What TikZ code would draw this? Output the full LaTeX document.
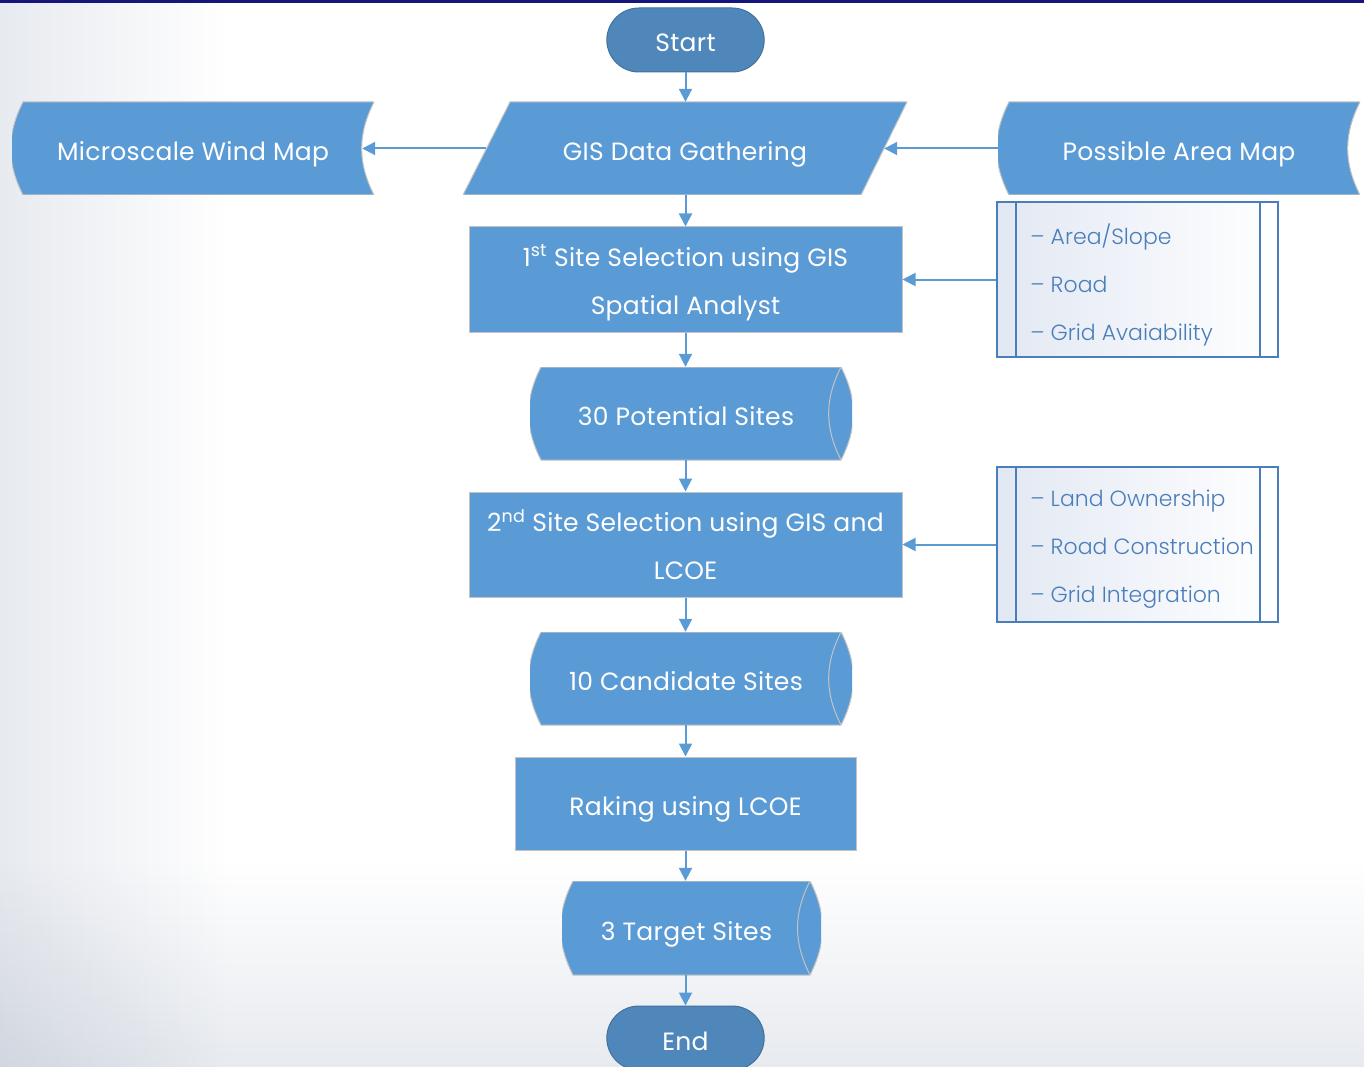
\documentclass[tikz,border=0pt]{standalone}
\usepackage{fontspec}
\setmainfont{Poppins}[LetterSpace=1.2]
\newfontfamily\listfont{Poppins Light}
\usetikzlibrary{arrows.meta, shapes.misc, positioning}

\definecolor{flowblue}{HTML}{5B9BD5}
\definecolor{termblue}{HTML}{4F87BA}
\definecolor{termedge}{HTML}{41719C}
\definecolor{rimgray}{HTML}{C3C3C3}
\definecolor{listblue}{HTML}{4A7EBB}
\definecolor{listtint}{HTML}{E2E8F3}
\definecolor{bgshade}{HTML}{E7EAEF}
\definecolor{topbar}{HTML}{16167A}

\begin{document}
\begin{tikzpicture}[x=1pt, y=-1pt, >={Triangle[width=13pt,length=13pt]},
  boxfont/.style={font=\fontsize{25}{48}\selectfont, text=white},
  oneline/.style={text height=24pt, text depth=0pt},
  terminal/.style={rounded rectangle, boxfont, oneline, fill=termblue, draw=termedge,
    line width=1pt, minimum width=164pt, minimum height=64pt},
  process/.style={rectangle, boxfont, fill=flowblue, draw=rimgray, line width=1pt,
    align=center, text depth=-15pt, minimum height=105pt},
  gisio/.style={rectangle, boxfont, oneline, minimum width=444pt, minimum height=93pt,
    path picture={
      \draw[fill=flowblue, draw=rimgray, line width=1pt]
        ([xshift=47pt]path picture bounding box.north west) --
        (path picture bounding box.north east) --
        ([xshift=-46pt]path picture bounding box.south east) --
        (path picture bounding box.south west) -- cycle;}},
  storedata/.style={rectangle, boxfont, oneline, minimum width=362pt, minimum height=93pt,
    path picture={
      \draw[fill=flowblue, draw=rimgray, line width=1pt]
        ([xshift=11pt]path picture bounding box.north west) to[bend right=27]
        ([xshift=11pt]path picture bounding box.south west) --
        (path picture bounding box.south east) to[bend left=27]
        (path picture bounding box.north east) -- cycle;}},
  disk/.style={rectangle, boxfont, oneline, minimum height=93pt,
    execute at begin node={\kern-10pt},
    path picture={
      \draw[fill=flowblue, draw=rimgray, line width=1pt]
        ([xshift=11pt]path picture bounding box.north west) to[bend right=27]
        ([xshift=11pt]path picture bounding box.south west) --
        ([xshift=-11pt]path picture bounding box.south east) to[bend right=27]
        ([xshift=-11pt]path picture bounding box.north east) -- cycle;
      \draw[rimgray, line width=1pt]
        ([xshift=-11pt]path picture bounding box.north east) to[bend right=27]
        ([xshift=-11pt]path picture bounding box.south east);}},
  critbox/.style={rectangle, draw=listblue, line width=1.5pt, left color=listtint,
    right color=white, minimum width=281pt, minimum height=155pt,
    path picture={
      \draw[listblue, line width=1.5pt]
        ([xshift=19pt]path picture bounding box.north west) --
        ([xshift=19pt]path picture bounding box.south west)
        ([xshift=-18pt]path picture bounding box.north east) --
        ([xshift=-18pt]path picture bounding box.south east);}},
  crittext/.style={anchor=west, align=left, text=listblue, inner sep=0pt,
    font=\listfont\fontsize{22}{48}\selectfont},
  link/.style={->, draw=flowblue, line width=2pt}]

  % page and background
  \useasboundingbox (0,0) rectangle (1364,1067);
  \shade[left color=bgshade, right color=white] (0,0) rectangle (230,1067);
  \begin{scope}[blend mode=multiply]
    \shade[top color=white, bottom color=bgshade] (0,860) rectangle (1364,1067);
  \end{scope}
  \fill[topbar] (0,0) rectangle (1364,3);

  % main column
  \node[terminal] (start) at (685.5,40) {Start};
  \node[gisio] (gis) at (685,148.5) {GIS Data Gathering};
  \node[process, minimum width=433pt] (sel1) at (685.5,279.5)
    {1\textsuperscript{st} Site Selection using GIS\\Spatial Analyst};
  \node[disk, minimum width=322pt] (pot) at (691,413.5) {30 Potential Sites};
  \node[process, minimum width=433pt] (sel2) at (685.5,544.5)
    {2\textsuperscript{nd} Site Selection using GIS and\\LCOE};
  \node[disk, minimum width=322pt] (cand) at (691,678.5) {10 Candidate Sites};
  \node[process, oneline, minimum width=341pt, minimum height=93pt] (rank) at (685.5,803.5)
    {Raking using LCOE};
  \node[disk, minimum width=259pt, minimum height=94pt] (target) at (691.5,928)
    {3 Target Sites};
  \node[terminal] (end) at (685.5,1038) {End};

  % side maps
  \node[storedata] (wind) at (193,148.5) {Microscale Wind Map};
  \node[storedata] (area) at (1179,148.5) {Possible Area Map};

  % criteria lists
  \node[critbox] (crit1) at (1137.5,279.5) {};
  \node[crittext] (crit1list) at ([xshift=34pt,yshift=-5pt]crit1.west)
    {– Area/Slope\\– Road\\– Grid Avaiability};
  \node[critbox] (crit2) at (1137.5,544.5) {};
  \node[crittext] (crit2list) at ([xshift=34pt,yshift=-5pt]crit2.west)
    {– Land Ownership\\– Road Construction\\– Grid Integration};

  % connectors
  \foreach \a/\b in {start/gis, gis/sel1, sel1/pot, pot/sel2, sel2/cand,
                     cand/rank, rank/target, target/end}
    \draw[link] (\a.south -| start) -- (\b.north -| start);
  \draw[link] ([xshift=23pt]gis.west) -- ([xshift=-12pt]wind.east);
  \draw[link] (area.west) -- ([xshift=-23pt]gis.east);
  \draw[link] (crit1.west) -- (sel1.east);
  \draw[link] (crit2.west) -- (sel2.east);
\end{tikzpicture}
\end{document}
